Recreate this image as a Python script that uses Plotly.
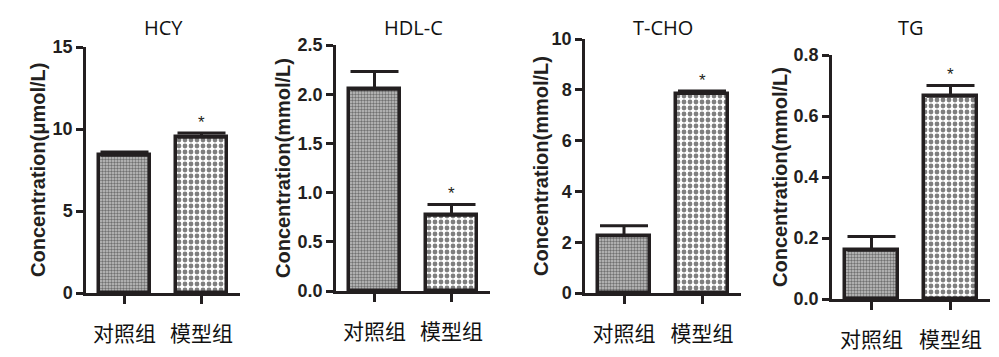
import plotly.graph_objects as go

OFFY = 8  # page offset of the figure (top only)
W, H = 999, 357 - OFFY

groups = ["对照组", "模型组"]
titles = ["HCY", "HDL-C", "T-CHO", "TG"]
ytitles = ["Concentration(μmol/L)", "Concentration(mmol/L)",
           "Concentration(mmol/L)", "Concentration(mmol/L)"]
means = [[8.4, 9.5], [2.05, 0.77], [2.25, 7.85], [0.16, 0.665]]
errors = [[0.2, 0.25], [0.18, 0.11], [0.4, 0.1], [0.045, 0.035]]
yranges = [[0, 15], [0, 2.5], [0, 10], [0, 0.8]]
ydticks = [5, 0.5, 2, 0.2]
ytickfmt = ["d", ".1f", "d", ".1f"]
signif = [[False, True], [False, True], [False, True], [False, True]]

# screen pixels (left, right, top, bottom) of each plot area
px_boxes = [(78, 232, 47, 293), (328, 482, 45, 291), (577, 733, 39, 293), (824, 982, 55, 299)]
ytitle_x = [30, 275, 533, 772]
title_y = 27


def fx(px):
    return px / W


def fy(py):
    return 1 - (py - OFFY) / H


ink = "#231f20"
fig = go.Figure()
annotations = []
layout = {}
for i in range(4):
    l, r, t, b = px_boxes[i]
    xa = "x" if i == 0 else f"x{i+1}"
    ya = "y" if i == 0 else f"y{i+1}"
    for j in range(2):
        if j == 0:
            pattern = dict(shape=".", size=3, solidity=0.5, fgcolor="#1e1e1e", bgcolor="#c4c4c4", fillmode="overlay")
        else:
            pattern = dict(shape=".", size=6, solidity=0.5, fgcolor="#000000", bgcolor="white", fillmode="overlay")
        fig.add_trace(go.Bar(
            x=[groups[j]], y=[means[i][j]], xaxis=xa, yaxis=ya,
            width=0.66,
            marker=dict(color="white", pattern=pattern, line=dict(color=ink, width=3.5)),
            error_y=dict(type="data", array=[errors[i][j]], arrayminus=[0], symmetric=False,
                         color=ink, thickness=3, width=24),
            showlegend=False,
        ))
        if signif[i][j]:
            annotations.append(dict(
                x=groups[j], y=means[i][j] + errors[i][j], xref=xa, yref=ya,
                text="*", showarrow=False, yanchor="bottom", yshift=-1,
                font=dict(family="Liberation Sans", size=17, color=ink)))
    ax_key = "xaxis" if i == 0 else f"xaxis{i+1}"
    ay_key = "yaxis" if i == 0 else f"yaxis{i+1}"
    layout[ax_key] = dict(
        domain=[fx(l), fx(r)], anchor=ya, type="category", automargin=False,
        range=[-0.5, 1.5], showline=True, linecolor=ink, linewidth=2.5,
        ticks="outside", ticklen=8, tickwidth=2.5, tickcolor=ink,
        ticklabelstandoff=12,
        tickfont=dict(family="Noto Sans CJK SC", size=21, color="#111"),
        showgrid=False, zeroline=False, fixedrange=True,
    )
    layout[ay_key] = dict(
        domain=[fy(b), fy(t)], anchor=xa, range=yranges[i], automargin=False,
        dtick=ydticks[i], tick0=0, tickformat=ytickfmt[i],
        showline=True, linecolor=ink, linewidth=2.5,
        ticks="outside", ticklen=7, tickwidth=2.5, tickcolor=ink,
        tickfont=dict(family="Liberation Sans", size=18, color=ink, weight="bold"),
        showgrid=False, zeroline=False, fixedrange=True,
    )
    annotations.append(dict(
        x=fx((l + r) / 2), y=fy(title_y), xref="paper", yref="paper",
        text=titles[i], showarrow=False, xanchor="center", yanchor="middle",
        font=dict(family="Open Sans", size=20, color="#111")))
    annotations.append(dict(
        x=fx(ytitle_x[i]), y=fy((t + b) / 2), xref="paper", yref="paper",
        text=ytitles[i], showarrow=False, textangle=-90,
        xanchor="center", yanchor="middle",
        font=dict(family="Liberation Sans", size=20, color=ink, weight="bold")))

fig.update_layout(
    **layout,
    annotations=annotations,
    width=W, height=H,
    margin=dict(l=0, r=0, t=0, b=0, autoexpand=False),
    paper_bgcolor="white", plot_bgcolor="white",
    bargap=0,
)
fig.write_html("out.html")
